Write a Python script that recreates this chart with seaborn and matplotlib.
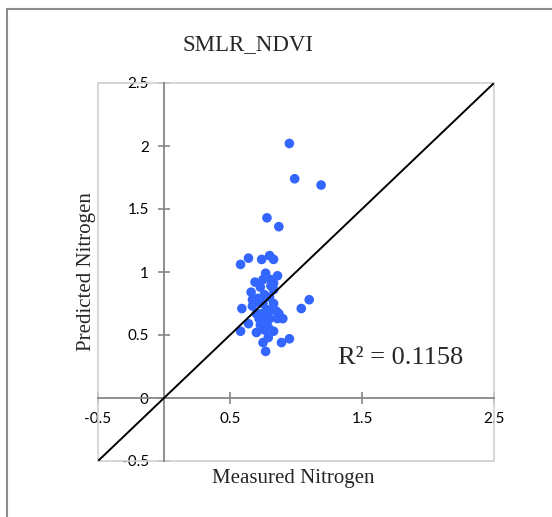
import matplotlib
matplotlib.use("Agg")
import matplotlib.pyplot as plt
import seaborn as sns
import pandas as pd
from matplotlib.lines import Line2D
from matplotlib.patches import Rectangle

# ---- data ----
measured = [0.95, 0.99, 1.19, 0.78, 0.87, 0.58, 0.64, 0.74, 0.80, 0.83,
            0.77, 0.75, 0.86, 0.83, 0.73, 0.66, 0.67, 0.80, 0.59, 0.67,
            0.75, 0.83, 1.10, 1.04, 0.78, 0.87, 0.90, 0.86, 0.72, 0.78,
            0.64, 0.58, 0.70, 0.76, 0.83, 0.79, 0.75, 0.89, 0.95, 0.77,
            0.83, 0.71, 0.81, 0.74, 0.80, 0.70, 0.77, 0.69, 0.76, 0.82,
            0.73, 0.79, 0.76, 0.72, 0.81, 0.85]
predicted = [2.02, 1.74, 1.69, 1.43, 1.36, 1.06, 1.11, 1.10, 1.13, 1.10,
             0.99, 0.94, 0.97, 0.91, 0.88, 0.84, 0.78, 0.80, 0.71, 0.73,
             0.75, 0.75, 0.78, 0.71, 0.70, 0.67, 0.63, 0.63, 0.63, 0.60,
             0.59, 0.53, 0.52, 0.54, 0.53, 0.48, 0.44, 0.44, 0.47, 0.37,
             0.86, 0.79, 0.94, 0.67, 0.63, 0.67, 0.57, 0.92, 0.82, 0.70,
             0.58, 0.56, 0.65, 0.76, 0.89, 0.69]
line_x = [-0.5, 2.5]
line_y = [-0.5, 2.5]
x_ticks = [-0.5, 0.5, 1.5, 2.5]
x_ticklabels = ["-0.5", "0.5", "1.5", "2.5"]
y_ticks = [-0.5, 0, 0.5, 1, 1.5, 2, 2.5]
y_ticklabels = ["-0.5", "0", "0.5", "1", "1.5", "2", "2.5"]
title = "SMLR_NDVI"
x_label = "Measured Nitrogen"
y_label = "Predicted Nitrogen"
r2_text = "R² = 0.1158"

df = pd.DataFrame({"Measured": measured, "Predicted": predicted})

sns.set_style("white")
plt.rcParams["font.family"] = ["Lato", "DejaVu Sans"]

W, H = 552, 517
fig = plt.figure(figsize=(W / 100, H / 100), dpi=100)
ax = fig.add_axes([98 / W, 1 - 461 / H, (494 - 98) / W, (461 - 83) / H])

sns.scatterplot(data=df, x="Measured", y="Predicted", ax=ax, color="#3366ff",
                s=48, edgecolor="none", zorder=3)
ax.plot(line_x, line_y, color="black", lw=1.4, zorder=4)

ax.set_xlim(-0.5, 2.5)
ax.set_ylim(-0.5, 2.5)

# axes crossing at zero
ax.spines["left"].set_position(("data", 0))
ax.spines["bottom"].set_position(("data", 0))
for s in ["left", "bottom"]:
    ax.spines[s].set_color("#878787")
    ax.spines[s].set_linewidth(1.3)
for s in ["top", "right"]:
    ax.spines[s].set_visible(False)

# light frame around plot area
ax.add_patch(Rectangle((0, 0), 1, 1, transform=ax.transAxes, fill=False,
                       edgecolor="#d0d0d0", lw=1.2, zorder=1, clip_on=False))

ax.set_xticks(x_ticks)
ax.set_xticklabels(x_ticklabels)
ax.set_yticks(y_ticks)
ax.set_yticklabels(y_ticklabels)
ax.tick_params(axis="both", direction="inout", length=8, width=1.2,
               color="#878787", labelsize=11, labelcolor="black",
               left=True, bottom=True)
ax.tick_params(axis="y", pad=7)
ax.tick_params(axis="x", pad=6)
ax.set_xlabel("")
ax.set_ylabel("")

serif = ["Liberation Serif", "DejaVu Serif"]
fig.text(248 / W, 1 - 45 / H, title, family=serif, fontsize=16.5,
         ha="center", va="center")
fig.text(293 / W, 1 - 478 / H, x_label, family=serif, fontsize=15,
         ha="center", va="center")
fig.text(87 / W, 1 - 272 / H, y_label, family=serif, fontsize=15,
         ha="center", va="center", rotation=90)
fig.text(401 / W, 1 - 358 / H, r2_text, family=serif, fontsize=19,
         ha="center", va="center")

# outer chart border (left and top visible)
fig.add_artist(Line2D([6.5 / W, 6.5 / W, 1], [0, 1 - 8.5 / H, 1 - 8.5 / H],
                      transform=fig.transFigure, color="#8c8c8c", lw=1.5))

fig.savefig("out.png", dpi=100)
